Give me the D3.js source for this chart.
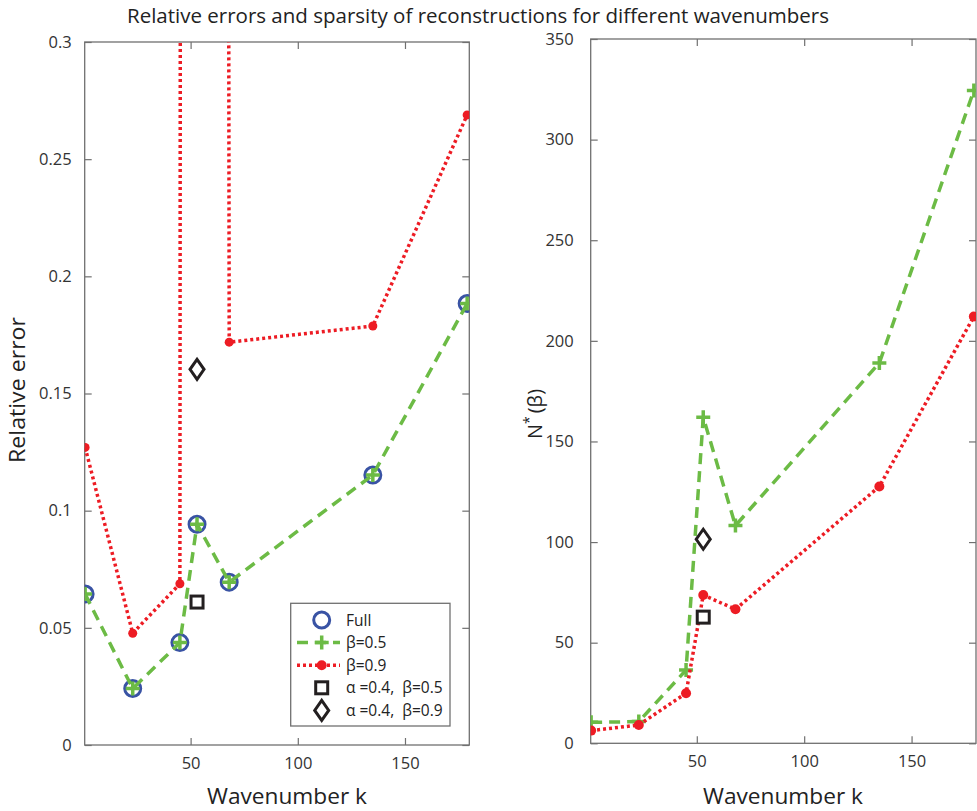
<!DOCTYPE html>
<html>
<head>
<meta charset="utf-8">
<script src="https://cdn.jsdelivr.net/npm/d3@7"></script>
<style>
  html, body { margin: 0; padding: 0; background: #fff; }
  svg { display: block; }
  .tick text { font-family: "Open Sans", sans-serif; font-size: 16.5px; fill: #333; }
  .lab { white-space: pre; }
</style>
</head>
<body>
<svg id="chart" width="977" height="811"></svg>
<script>
// Wavenumbers used for the reconstructions
const wavenumbers = [0.8, 23, 45, 53, 68, 135, 179];

// Relative errors (left panel)
const errFull    = [0.0644, 0.0241, 0.0437, 0.0942, 0.0695, 0.1152, 0.1884];
const errBeta05  = [0.0644, 0.0241, 0.0437, 0.0942, 0.0695, 0.1152, 0.1884];
const errBeta09  = [0.127, 0.0477, 0.0688, 10, 0.1719, 0.1788, 0.2689];
const errAlphaB05 = [{ k: 53, v: 0.061 }];
const errAlphaB09 = [{ k: 53, v: 0.1603 }];

// Sparsity N*(beta) (right panel)
const nBeta05  = [10.4, 10.8, 36.4, 162, 108.2, 189, 324.4];
const nBeta09  = [6.3, 9.1, 24.9, 73.7, 66.6, 127.6, 212.1];
const nAlphaB05 = [{ k: 53, v: 62.7 }];
const nAlphaB09 = [{ k: 53, v: 101.4 }];

// Tick values
const xTicks = [50, 100, 150];
const errTicks = [0, 0.05, 0.1, 0.15, 0.2, 0.25, 0.3];
const nTicks = [0, 50, 100, 150, 200, 250, 300, 350];

// Legend entries
const legendLabels = ["Full", "β=0.5", "β=0.9", "α =0.4,  β=0.5", "α =0.4,  β=0.9"];

const BLUE = "#3953a4", GREEN = "#6cbb45", RED = "#ed1c24", BLACK = "#231f20", AXIS = "#707070";

const svg = d3.select("#chart");

svg.append("text")
  .attr("x", 478).attr("y", 23)
  .attr("text-anchor", "middle")
  .attr("font-family", "Open Sans, sans-serif")
  .attr("font-size", 20)
  .attr("fill", "#222")
  .attr("textLength", 702).attr("lengthAdjust", "spacingAndGlyphs")
  .text("Relative errors and sparsity of reconstructions for different wavenumbers");

function panel(opts) {
  const { left, right, top, bottom, yDomain, yTicks, yFmt, yPad, id } = opts;
  const x = d3.scaleLinear().domain([0.6, 180]).range([left, right]);
  const y = d3.scaleLinear().domain(yDomain).range([bottom, top]);
  const g = svg.append("g");

  g.append("clipPath").attr("id", id)
    .append("rect").attr("x", left).attr("y", top)
    .attr("width", right - left).attr("height", bottom - top);

  const styleAxis = sel => {
    sel.select(".domain").remove();
    sel.selectAll(".tick line").attr("stroke", AXIS).attr("stroke-width", 1.2);
  };

  g.append("g").attr("transform", `translate(0,${bottom})`)
    .call(d3.axisBottom(x).tickValues(xTicks).tickSize(-7).tickPadding(12).tickFormat(d3.format("d")))
    .call(styleAxis);
  g.append("g").attr("transform", `translate(0,${top})`)
    .call(d3.axisTop(x).tickValues(xTicks).tickSize(-7).tickFormat(""))
    .call(styleAxis);
  g.append("g").attr("transform", `translate(${left},0)`)
    .call(d3.axisLeft(y).tickValues(yTicks).tickSize(-7).tickPadding(yPad).tickFormat(yFmt))
    .call(styleAxis);
  g.append("g").attr("transform", `translate(${right},0)`)
    .call(d3.axisRight(y).tickValues(yTicks).tickSize(-7).tickFormat(""))
    .call(styleAxis);

  g.append("rect")
    .attr("x", left).attr("y", top)
    .attr("width", right - left).attr("height", bottom - top)
    .attr("fill", "none").attr("stroke", AXIS).attr("stroke-width", 1.3);

  const plot = g.append("g").attr("clip-path", `url(#${id})`);
  return { x, y, g, plot };
}

const line = (x, y) => d3.line().x(d => x(d.k)).y(d => y(d.v));
const zipK = vals => wavenumbers.map((k, i) => ({ k, v: vals[i] }));

function drawCircles(p, data) {
  p.plot.append("g").selectAll("circle").data(data).join("circle")
    .attr("cx", d => p.x(d.k)).attr("cy", d => p.y(d.v)).attr("r", 8)
    .attr("fill", "none").attr("stroke", BLUE).attr("stroke-width", 3);
}
function drawGreen(p, data) {
  p.plot.append("path").datum(data)
    .attr("d", line(p.x, p.y))
    .attr("fill", "none").attr("stroke", GREEN).attr("stroke-width", 3.5)
    .attr("stroke-dasharray", "11,7");
  p.plot.append("g").selectAll("path").data(data).join("path")
    .attr("transform", d => `translate(${p.x(d.k)},${p.y(d.v)})`)
    .attr("d", "M-7,0H7M0,-7V7")
    .attr("stroke", GREEN).attr("stroke-width", 3.5).attr("fill", "none");
}
function drawRed(p, data, r) {
  p.plot.append("path").datum(data)
    .attr("d", line(p.x, p.y))
    .attr("fill", "none").attr("stroke", RED).attr("stroke-width", 3.5)
    .attr("stroke-dasharray", "3,3");
  p.plot.append("g").selectAll("circle").data(data).join("circle")
    .attr("cx", d => p.x(d.k)).attr("cy", d => p.y(d.v)).attr("r", r)
    .attr("fill", RED);
}
function drawSquare(p, data) {
  p.plot.append("g").selectAll("rect").data(data).join("rect")
    .attr("x", d => p.x(d.k) - 6).attr("y", d => p.y(d.v) - 6)
    .attr("width", 12).attr("height", 12)
    .attr("fill", "#fff").attr("stroke", BLACK).attr("stroke-width", 3);
}
function drawDiamond(p, data) {
  p.plot.append("g").selectAll("path").data(data).join("path")
    .attr("transform", d => `translate(${p.x(d.k)},${p.y(d.v)})`)
    .attr("d", "M0,-10L7,0L0,10L-7,0Z")
    .attr("fill", "#fff").attr("stroke", BLACK).attr("stroke-width", 3);
}

// Left panel: relative errors
const pL = panel({ left: 84.7, right: 469.3, top: 42, bottom: 745, yDomain: [0, 0.3],
  yTicks: errTicks, yFmt: d => (d === 0 ? "0" : String(+d.toFixed(2))), yPad: 13, id: "clipL" });
drawCircles(pL, zipK(errFull));
drawGreen(pL, zipK(errBeta05));
drawRed(pL, zipK(errBeta09), 4.5);
drawSquare(pL, errAlphaB05);
drawDiamond(pL, errAlphaB09);

// Right panel: sparsity
const pR = panel({ left: 590.7, right: 976, top: 39, bottom: 743.3, yDomain: [0, 350],
  yTicks: nTicks, yFmt: d3.format("d"), yPad: 17, id: "clipR" });
drawGreen(pR, zipK(nBeta05));
drawRed(pR, zipK(nBeta09), 5);
drawSquare(pR, nAlphaB05);
drawDiamond(pR, nAlphaB09);

// Axis titles
const labelFont = "Open Sans, sans-serif";
svg.append("text").attr("x", 287).attr("y", 804).attr("text-anchor", "middle")
  .attr("font-family", labelFont).attr("font-size", 21).attr("fill", "#222")
  .attr("textLength", 160).attr("lengthAdjust", "spacingAndGlyphs")
  .text("Wavenumber k");
svg.append("text").attr("x", 783).attr("y", 804).attr("text-anchor", "middle")
  .attr("font-family", labelFont).attr("font-size", 21).attr("fill", "#222")
  .attr("textLength", 160).attr("lengthAdjust", "spacingAndGlyphs")
  .text("Wavenumber k");
svg.append("text").attr("transform", "translate(25,390) rotate(-90)").attr("text-anchor", "middle")
  .attr("font-family", labelFont).attr("font-size", 21).attr("fill", "#222")
  .attr("textLength", 146).attr("lengthAdjust", "spacingAndGlyphs")
  .text("Relative error");
const nl = svg.append("text").attr("transform", "translate(542,414) rotate(-90)").attr("text-anchor", "middle")
  .attr("font-family", labelFont).attr("font-size", 20).attr("fill", "#222");
nl.append("tspan").text("N");
nl.append("tspan").attr("dy", -8).attr("font-size", 14).text("*");
nl.append("tspan").attr("dy", 8).attr("dx", 3).text("(β)");

// Legend
const lg = svg.append("g");
lg.append("rect").attr("x", 290.7).attr("y", 603.3).attr("width", 159.3).attr("height", 122.7)
  .attr("fill", "#fff").attr("stroke", AXIS).attr("stroke-width", 1.3);
const rowY = i => 620 + i * 22.6;
const mx = 321.7;
lg.append("circle").attr("cx", mx).attr("cy", rowY(0)).attr("r", 8)
  .attr("fill", "none").attr("stroke", BLUE).attr("stroke-width", 3);
lg.append("line").attr("x1", 297).attr("x2", 340).attr("y1", rowY(1)).attr("y2", rowY(1))
  .attr("stroke", GREEN).attr("stroke-width", 3.5).attr("stroke-dasharray", "11,7");
lg.append("path").attr("transform", `translate(${mx},${rowY(1)})`).attr("d", "M-7,0H7M0,-7V7")
  .attr("stroke", GREEN).attr("stroke-width", 3.5);
lg.append("line").attr("x1", 297).attr("x2", 340).attr("y1", rowY(2)).attr("y2", rowY(2))
  .attr("stroke", RED).attr("stroke-width", 3.5).attr("stroke-dasharray", "3,3");
lg.append("circle").attr("cx", mx).attr("cy", rowY(2)).attr("r", 5).attr("fill", RED);
lg.append("rect").attr("x", mx - 6).attr("y", rowY(3) - 6).attr("width", 12).attr("height", 12)
  .attr("fill", "#fff").attr("stroke", BLACK).attr("stroke-width", 3);
lg.append("path").attr("transform", `translate(${mx},${rowY(4)})`).attr("d", "M0,-10L7,0L0,10L-7,0Z")
  .attr("fill", "#fff").attr("stroke", BLACK).attr("stroke-width", 3);
lg.selectAll("text.lab").data(legendLabels).join("text").attr("class", "lab")
  .attr("x", 346).attr("y", (d, i) => rowY(i) + 5.5)
  .attr("font-family", "Open Sans, sans-serif").attr("font-size", 15.5).attr("fill", "#222")
  .text(d => d);
</script>
</body>
</html>
